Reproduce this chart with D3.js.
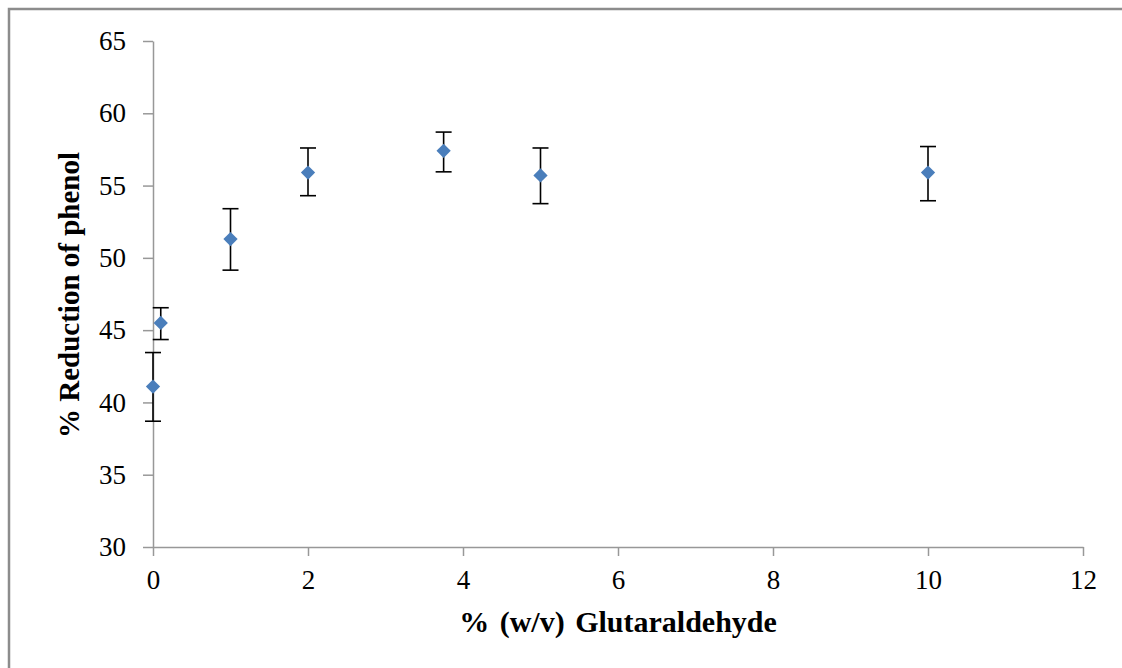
<!DOCTYPE html>
<html>
<head>
<meta charset="utf-8">
<script src="https://cdn.jsdelivr.net/npm/d3@7"></script>
<style>
  html, body { margin: 0; padding: 0; background: #fff; }
  svg { display: block; }
</style>
</head>
<body>
<svg id="chart" width="1122" height="668"></svg>
<script>
const xValues   = [0, 0.1, 1, 2, 3.75, 5, 10];
const yValues   = [41.1, 45.5, 51.3, 55.9, 57.4, 55.7, 55.9];
const errUpper  = [43.45, 46.55, 53.4, 57.6, 58.7, 57.6, 57.7];
const errLower  = [38.7, 44.35, 49.15, 54.3, 55.95, 53.75, 53.95];
const xTicks    = [0, 2, 4, 6, 8, 10, 12];
const yTicks    = [30, 35, 40, 45, 50, 55, 60, 65];
const xTitle    = "% (w/v) Glutaraldehyde";
const yTitle    = "% Reduction of phenol";

(function () {
const svg = d3.select("#chart");
const W = 1122, H = 668;
const mLeft = 153, mRight = 1083, mTop = 41, mBottom = 547;
const font = "Liberation Serif";

// outer frame (only top and left visible in reference)
svg.append("rect")
  .attr("x", 9).attr("y", 9)
  .attr("width", W + 20).attr("height", H + 20)
  .attr("fill", "none").attr("stroke", "#8c8c8c").attr("stroke-width", 2.5);

const x = d3.scaleLinear().domain([0, 12]).range([mLeft, mRight]);
const y = d3.scaleLinear().domain([30, 65]).range([mBottom, mTop]);

const xAxis = svg.append("g")
  .attr("transform", `translate(0,${mBottom})`)
  .call(d3.axisBottom(x).tickValues(xTicks).tickSize(9).tickPadding(14).tickSizeOuter(0).tickFormat(d3.format("d")));
const yAxis = svg.append("g")
  .attr("transform", `translate(${mLeft},0)`)
  .call(d3.axisLeft(y).tickValues(yTicks).tickSize(10).tickPadding(17).tickSizeOuter(0).tickFormat(d3.format("d")));

[xAxis, yAxis].forEach(g => {
  g.attr("font-family", font).attr("font-size", 27);
  g.select(".domain").attr("stroke", "#989898").attr("stroke-width", 1.5);
  g.selectAll(".tick line").attr("stroke", "#989898").attr("stroke-width", 1.5);
  g.selectAll(".tick text").style("font-family", font).style("font-size", "27px").attr("fill", "#000");
});

// error bars
const eb = svg.append("g").attr("stroke", "#000").attr("stroke-width", 1.6);
xValues.forEach((xv, i) => {
  const cx = x(xv);
  eb.append("line").attr("x1", cx).attr("x2", cx).attr("y1", y(errUpper[i])).attr("y2", y(errLower[i]));
  eb.append("line").attr("x1", cx - 8).attr("x2", cx + 8).attr("y1", y(errUpper[i])).attr("y2", y(errUpper[i]));
  eb.append("line").attr("x1", cx - 8).attr("x2", cx + 8).attr("y1", y(errLower[i])).attr("y2", y(errLower[i]));
});

// diamonds
const diamond = d3.symbol().type(d3.symbolDiamond2).size(130);
svg.append("g").selectAll("path")
  .data(xValues.map((xv, i) => [xv, yValues[i]]))
  .join("path")
  .attr("d", diamond)
  .attr("transform", d => `translate(${x(d[0])},${y(d[1])})`)
  .attr("fill", "#4a7ebb");

// titles
svg.append("text")
  .attr("x", 618).attr("y", 632)
  .attr("text-anchor", "middle")
  .style("font-family", font).style("font-weight", "bold").style("font-size", "30px")
  .attr("word-spacing", 3)
  .text(xTitle);

svg.append("text")
  .attr("transform", `translate(79,295) rotate(-90)`)
  .attr("text-anchor", "middle")
  .style("font-family", font).style("font-weight", "bold").style("font-size", "29px")
  .text(yTitle);
})();
</script>
</body>
</html>
